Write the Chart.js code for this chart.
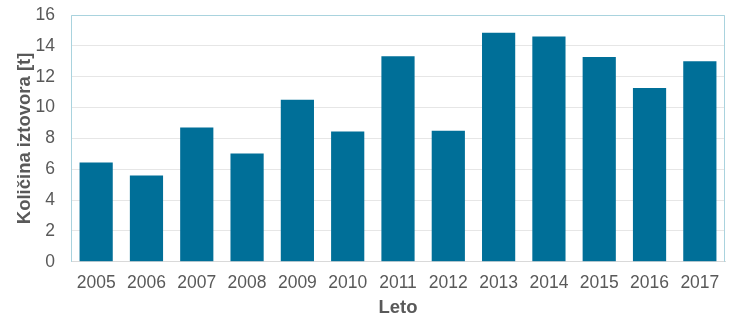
<!DOCTYPE html>
<html>
<head>
<meta charset="utf-8">
<script src="https://cdn.jsdelivr.net/npm/chart.js@4/dist/chart.umd.min.js"></script>
<style>
    html, body { margin: 0; padding: 0; background: #fff; }
    #wrap { width: 736px; height: 328px; }
</style>
</head>
<body>
<div id="wrap"><canvas id="loadChart" width="736" height="328"></canvas></div>
<script>
const years = ['2005', '2006', '2007', '2008', '2009', '2010', '2011', '2012', '2013', '2014', '2015', '2016', '2017'];
const tonnes = [6.44, 5.6, 8.7, 7.02, 10.5, 8.45, 13.33, 8.5, 14.85, 14.6, 13.27, 11.27, 13.0];
const yTicks = [0, 2, 4, 6, 8, 10, 12, 14, 16];

const textColor = '#595959';

// light blue frame around the plot area (left, top, right)
const plotFrame = {
    id: 'plotFrame',
    afterDatasetsDraw(chart) {
        const { ctx, chartArea: a } = chart;
        ctx.save();
        ctx.strokeStyle = '#a9d3de';
        ctx.lineWidth = 1;
        ctx.beginPath();
        ctx.moveTo(a.left + 0.5, a.bottom);
        ctx.lineTo(a.left + 0.5, a.top + 0.5);
        ctx.lineTo(a.right - 0.5, a.top + 0.5);
        ctx.lineTo(a.right - 0.5, a.bottom);
        ctx.stroke();
        ctx.restore();
    },
};

new Chart(document.getElementById('loadChart'), {
    type: 'bar',
    data: {
        labels: years,
        datasets: [
            {
                data: tonnes,
                backgroundColor: '#006f98',
                barPercentage: 0.66,
                categoryPercentage: 1,
            },
        ],
    },
    options: {
        responsive: false,
        animation: false,
        layout: { padding: { top: 15, right: 11, left: 16, bottom: 5 } },
        plugins: {
            legend: { display: false },
            tooltip: { enabled: false },
        },
        scales: {
            x: {
                afterFit(scale) {
                    scale.paddingLeft = 0;
                    scale.paddingRight = 0;
                },
                grid: { display: false },
                border: { color: '#d9d9d9' },
                ticks: {
                    color: textColor,
                    font: { family: 'Liberation Sans', size: 17.5 },
                    padding: 3,
                    maxRotation: 0,
                },
                title: {
                    display: true,
                    text: 'Leto',
                    color: textColor,
                    font: { family: 'Liberation Sans', size: 18.5, weight: 'bold' },
                    padding: { top: 0 },
                },
            },
            y: {
                min: 0,
                max: 16,
                afterBuildTicks(scale) {
                    scale.ticks = yTicks.map((v) => ({ value: v }));
                },
                afterFit(scale) {
                    scale.width = 55;
                    scale.paddingTop = 0;
                    scale.paddingBottom = 0;
                },
                grid: { color: '#e6e6e6', drawTicks: false },
                border: { display: false },
                ticks: {
                    color: textColor,
                    font: { family: 'Liberation Sans', size: 17.5 },
                    padding: 16,
                },
                title: {
                    display: true,
                    text: 'Količina iztovora [t]',
                    color: textColor,
                    font: { family: 'Liberation Sans', size: 18.5, weight: 'bold', lineHeight: 1 },
                    padding: 0,
                },
            },
        },
    },
    plugins: [plotFrame],
});
</script>
</body>
</html>
